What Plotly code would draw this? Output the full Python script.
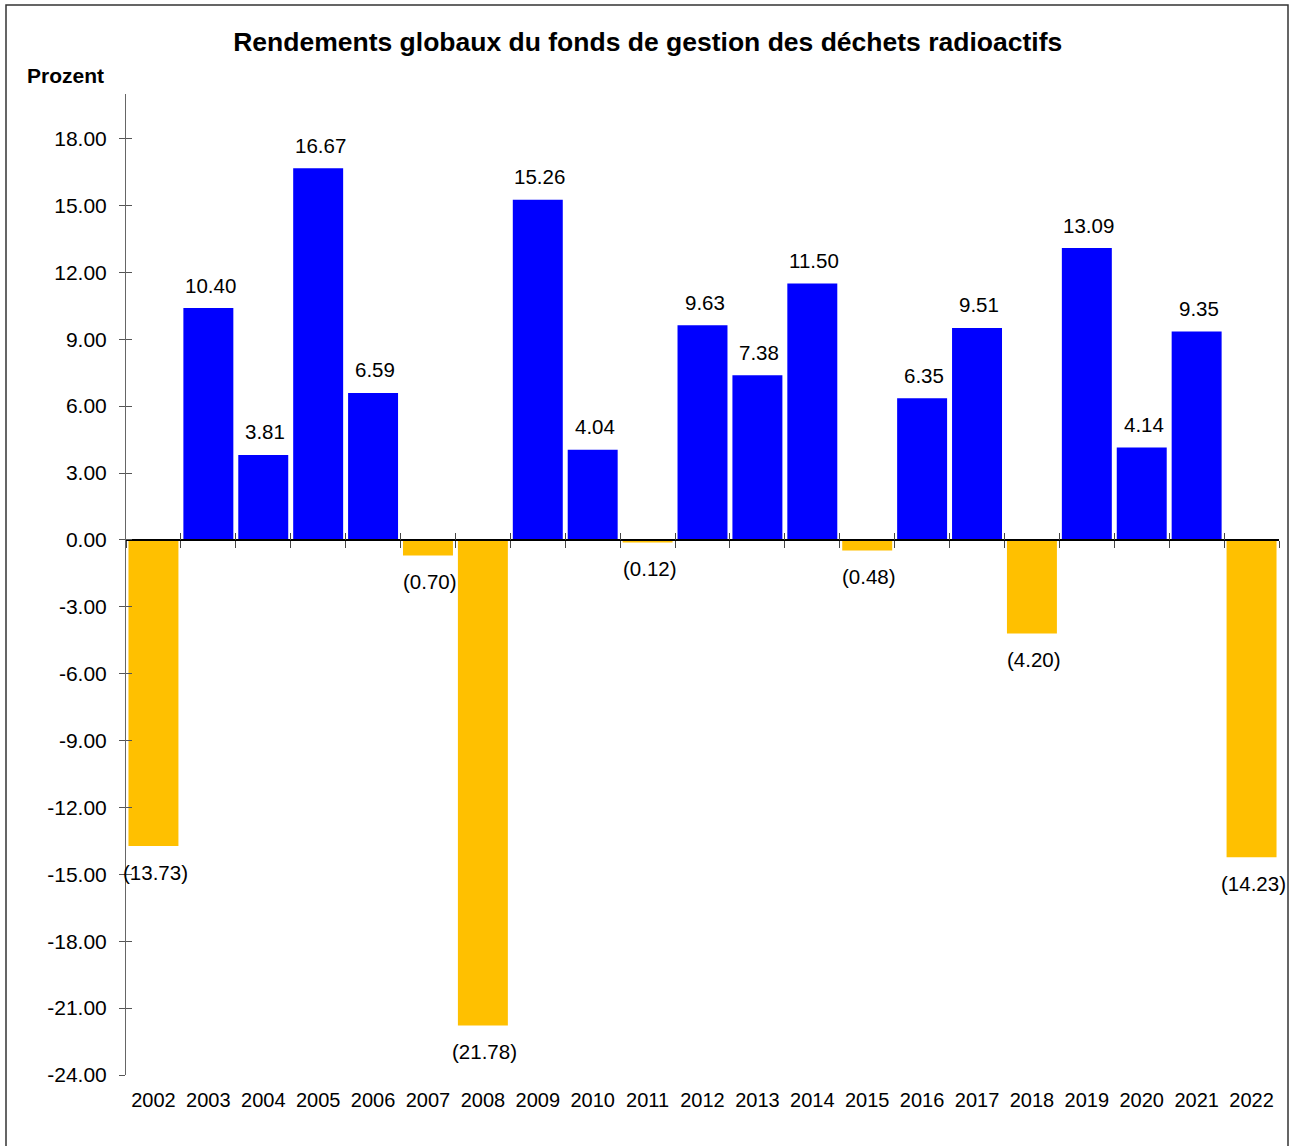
import plotly.graph_objects as go

years = [str(y) for y in range(2002, 2023)]
returns = [-13.73, 10.40, 3.81, 16.67, 6.59, -0.70, -21.78, 15.26, 4.04, -0.12,
           9.63, 7.38, 11.50, -0.48, 6.35, 9.51, -4.20, 13.09, 4.14, 9.35, -14.23]
ytick_vals = [18, 15, 12, 9, 6, 3, 0, -3, -6, -9, -12, -15, -18, -21, -24]
ytick_text = ["18.00", "15.00", "12.00", "9.00", "6.00", "3.00", "0.00", "-3.00",
              "-6.00", "-9.00", "-12.00", "-15.00", "-18.00", "-21.00", "-24.00"]
title_text = "Rendements globaux du fonds de gestion des déchets radioactifs"
yaxis_title = "Prozent"

W, H = 1289, 1146
ML, MR, MT, MB = 126, 10, 94, 71
PW, PH = W - ML - MR, H - MT - MB
YMIN, YMAX = -24, 20
FONT = "Liberation Sans, Arial, sans-serif"
BLUE = "#0000FF"
GOLD = "#FFC000"

n = len(years)
colors = [BLUE if v >= 0 else GOLD for v in returns]
labels = [f"{v:.2f}" if v >= 0 else f"({abs(v):.2f})" for v in returns]

fig = go.Figure()
fig.add_trace(go.Bar(x=years, y=returns, marker=dict(color=colors, line=dict(width=0)),
                     hoverinfo="x+y", showlegend=False))

for i, (v, lab) in enumerate(zip(returns, labels)):
    fig.add_annotation(x=i, y=v, xref="x", yref="y", text=lab, showarrow=False,
                       yanchor="middle", yshift=23 if v >= 0 else -26, xshift=2,
                       font=dict(family=FONT, size=20.5, color="black"))

zero_pos = (0 - YMIN) / (YMAX - YMIN)
bounds = [i - 0.5 for i in range(n + 1)]

def px2paper_x(px):
    return (px - ML) / PW

def px2paper_y(py):
    return (H - MB - py) / PH

fig.update_layout(
    width=W, height=H,
    margin=dict(l=ML, r=MR, t=MT, b=MB),
    paper_bgcolor="white", plot_bgcolor="white",
    font=dict(family=FONT, size=20, color="black"),
    bargap=0.09,
    title=dict(text=f"<b>{title_text}</b>", x=0.5025, xref="container",
               y=1 - 42 / H, yref="container", yanchor="middle", xanchor="center",
               font=dict(family=FONT, size=26.5, color="black")),
    xaxis=dict(type="category", range=[-0.5, n - 0.5], showgrid=False, showline=False,
               zeroline=False, ticks="", ticklabelstandoff=11,
               tickfont=dict(family=FONT, size=20, color="black")),
    xaxis2=dict(overlaying="x", anchor="free", position=zero_pos, range=[-0.5, n - 0.5],
                tickmode="array", tickvals=bounds, showticklabels=False, ticks="outside",
                ticklen=7, tickcolor="#444", showline=True, linecolor="black", linewidth=1.5,
                showgrid=False, zeroline=False),
    xaxis3=dict(overlaying="x", anchor="free", position=zero_pos, range=[-0.5, n - 0.5],
                tickmode="array", tickvals=bounds, showticklabels=False, ticks="inside",
                ticklen=7, tickcolor="#444", showline=False, showgrid=False, zeroline=False),
    yaxis=dict(range=[YMIN, YMAX], tickmode="array", tickvals=ytick_vals, ticktext=ytick_text,
               ticks="outside", ticklen=6, tickcolor="#555", showline=True, linecolor="#666",
               linewidth=1, showgrid=False, zeroline=False, ticklabelstandoff=8,
               tickfont=dict(family=FONT, size=21, color="black")),
    yaxis2=dict(overlaying="y", range=[YMIN, YMAX], tickmode="array", tickvals=ytick_vals,
                showticklabels=False, ticks="inside", ticklen=6, tickcolor="#555",
                showline=False, showgrid=False, zeroline=False),
)

fig.add_trace(go.Scatter(x=[0], y=[0], xaxis="x2", yaxis="y", mode="markers",
                         marker=dict(opacity=0), hoverinfo="skip", showlegend=False))
fig.add_trace(go.Scatter(x=[0], y=[0], xaxis="x3", yaxis="y2", mode="markers",
                         marker=dict(opacity=0), hoverinfo="skip", showlegend=False))

fig.add_annotation(text=f"<b>{yaxis_title}</b>", xref="paper", yref="paper",
                   x=px2paper_x(25), y=px2paper_y(75), xanchor="left", yanchor="middle",
                   showarrow=False, font=dict(family=FONT, size=21, color="black"))

fig.add_shape(type="rect", xref="paper", yref="paper",
              x0=px2paper_x(6), x1=px2paper_x(1288), y0=px2paper_y(1160), y1=px2paper_y(5),
              line=dict(color="#333", width=1.5), fillcolor="rgba(0,0,0,0)", layer="below")

fig.write_html("out.html", config={"displayModeBar": False},
               post_script="document.body.style.margin='0';document.body.style.overflow='hidden';")
